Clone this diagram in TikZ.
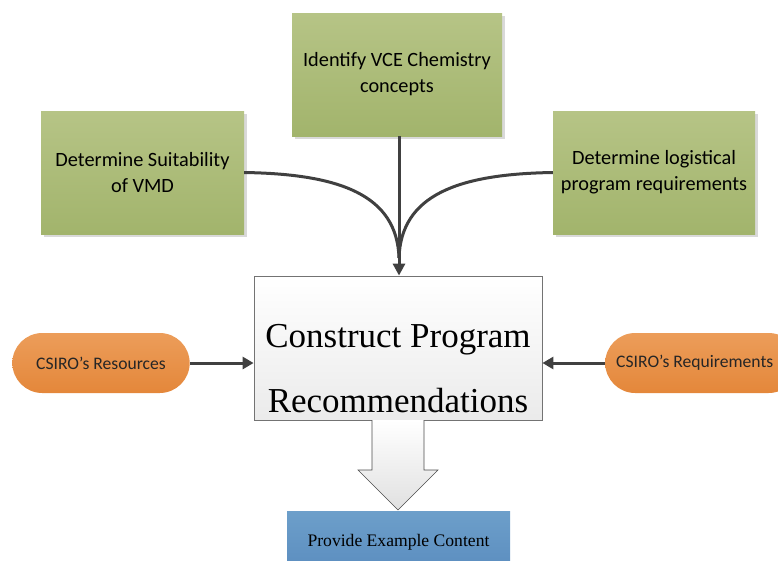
\documentclass[tikz,border=0pt]{standalone}
\usepackage{fontspec}
\setmainfont{Liberation Serif}
\newfontfamily\calfont{Carlito}
\usetikzlibrary{arrows.meta,shapes.misc}
\definecolor{gtop}{HTML}{B6C486}
\definecolor{gbot}{HTML}{A2B46C}
\definecolor{otop}{HTML}{EC9D5A}
\definecolor{obot}{HTML}{E4873A}
\definecolor{btop}{HTML}{6D9FCA}
\definecolor{bbot}{HTML}{5B8DBF}
\definecolor{conn}{HTML}{404040}
\tikzset{
  greenbox/.style={rectangle, top color=gtop, bottom color=gbot, draw=none, align=center, font=\calfont\fontsize{20.3}{26}\selectfont, text=black, inner sep=0pt},
  pill/.style={rounded rectangle, top color=otop, bottom color=obot, draw=none, font=\calfont\fontsize{17.6}{20}\selectfont, text=black!85},
  conline/.style={draw=conn, line width=3pt},
  shadowbox/.style={fill=black!15, draw=none}
}
\begin{document}
\begin{tikzpicture}[x=1pt,y=-1pt]
\useasboundingbox (0,0) rectangle (778,560);
\begin{scope}
\clip (0,0) rectangle (778,560);
% shadows
\fill[shadowbox] (295,16) rectangle (505,139);
\fill[shadowbox] (44,114) rectangle (247,237);
\fill[shadowbox] (556,114) rectangle (758,237);
% green boxes
\node[greenbox, minimum width=210pt, minimum height=123pt] (top) at (397,74.5) {Identify VCE Chemistry\\concepts};
\node[greenbox, minimum width=203pt, minimum height=123pt] (left) at (142.5,172.5) {Determine Suitability\\of VMD};
\node[greenbox, minimum width=202pt, minimum height=123pt] (right) at (654,172.5) {Determine logistical\\program requirements};
% central box
\node[rectangle, top color=white, bottom color=black!8, draw=black!55, line width=0.8pt, minimum width=288pt, minimum height=144pt, inner sep=0pt] (main) at (398,348) {};
\node[align=center, font=\fontsize{35}{65}\selectfont, inner sep=0pt] (maintxt) at (398,369) {Construct Program\\Recommendations};
% pills
\node[pill, minimum width=184pt, minimum height=60pt] (res) at (101,363) {CSIRO’s Resources};
\node[pill, minimum width=200pt, minimum height=60pt, anchor=west] (req) at (605,363) {};
\node[font=\calfont\fontsize{17.6}{20}\selectfont, text=black!85, anchor=west, inner sep=0pt] (reqtxt) at (616,363) {CSIRO’s Requirements};
% blue box
\node[rectangle, top color=btop, bottom color=bbot, minimum width=223pt, minimum height=60pt, anchor=north, inner sep=0pt] (blue) at (398.5,511) {};
\node[font=\fontsize{17.6}{20}\selectfont, text=black, anchor=center] (bluetxt) at (398.5,542) {Provide Example Content};
% block arrow
\shade[top color=white, bottom color=black!12, draw=black!70, line width=0.6pt]
  (372,420) -- (372,470) -- (358,470) -- (398,510) -- (438,470) -- (424,470) -- (424,420);
\coordinate (merge) at (399,258);
% connectors
\draw[conline] (left.east) .. controls (340,174) and (397,195) .. (merge);
\draw[conline] (right.west) .. controls (458,174) and (401,195) .. (merge);
\draw[conline, -{Triangle[length=12pt,width=12pt]}] (top.south -| merge) -- (main.north -| merge);
\draw[conline, -{Triangle[length=11pt,width=12pt]}] (res.east) -- (main.west |- res.east);
\draw[conline, -{Triangle[length=11pt,width=12pt]}] (req.west) -- (main.east |- req.west);
\end{scope}
\end{tikzpicture}
\end{document}
